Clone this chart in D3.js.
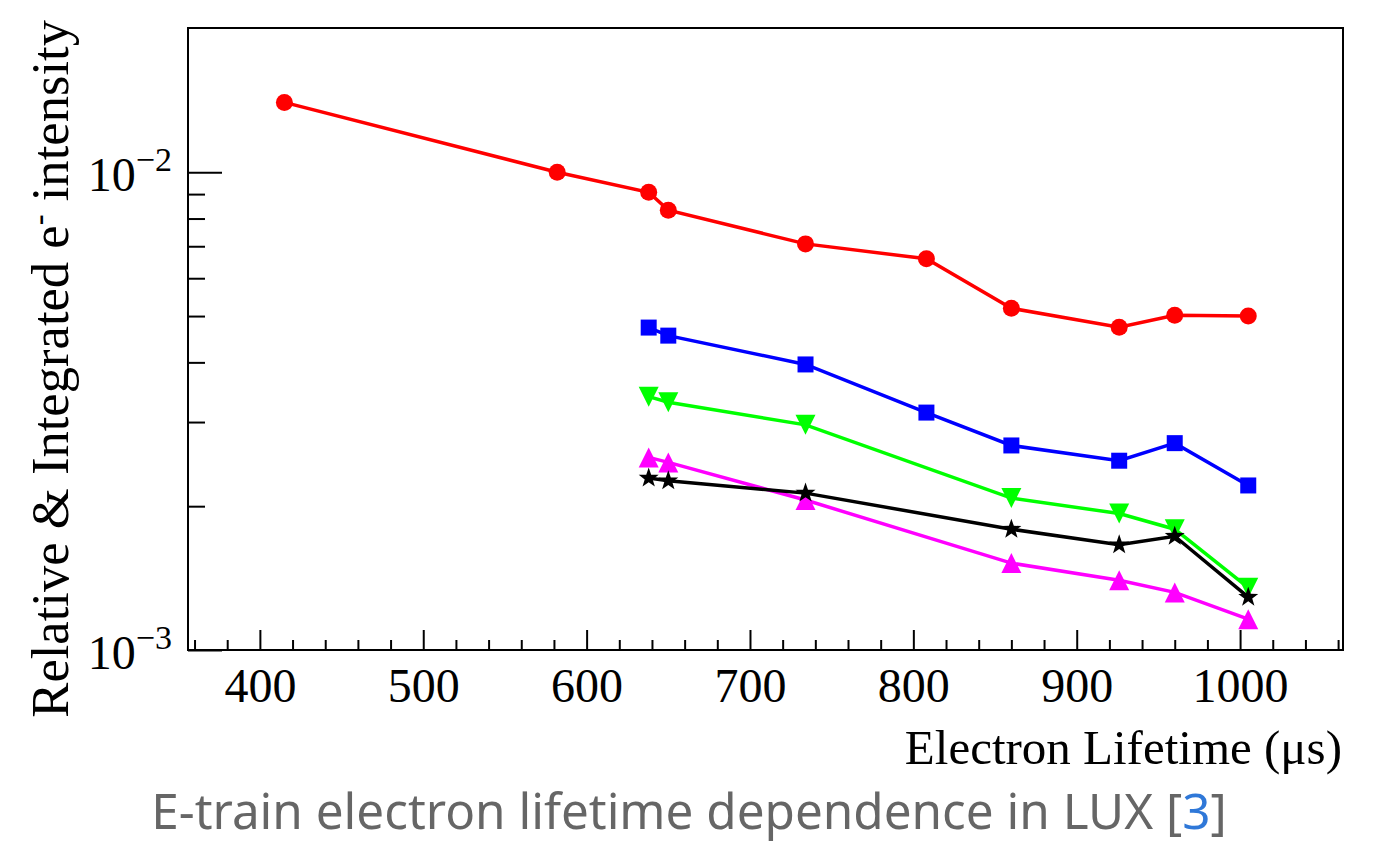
<!DOCTYPE html>
<html>
<head>
<meta charset="utf-8">
<script src="https://cdn.jsdelivr.net/npm/d3@7"></script>
<style>
  body { margin: 0; background: #fff; }
  svg { display: block; }
</style>
</head>
<body>
<div id="chart"></div>
<script>
const width = 1385;
const height = 842;

// electron lifetime (us)
const redLifetimes = [415, 582, 638, 650, 734, 808, 860, 926, 960, 1005];
const blueLifetimes = [638, 650, 734, 808, 860, 926, 960, 1005];
const lowLifetimes = [638, 650, 734, 860, 926, 960, 1005];

// relative & integrated e- intensity
const redValues = [0.0140, 0.0100, 0.00908, 0.00833, 0.00708, 0.00659, 0.00519, 0.00474, 0.00502, 0.00500];
const blueValues = [0.00473, 0.00455, 0.00396, 0.00314, 0.00268, 0.00249, 0.00271, 0.00221];
const greenValues = [0.00339, 0.00330, 0.00296, 0.00208, 0.00193, 0.00179, 0.00135];
const magentaValues = [0.00253, 0.00247, 0.00206, 0.00152, 0.00140, 0.00132, 0.00116];
const blackValues = [0.00229, 0.00226, 0.00213, 0.00179, 0.00166, 0.00173, 0.00129];

const xMajorTicks = [400, 500, 600, 700, 800, 900, 1000];
const yMajorTicks = [0.001, 0.01];
const yTickExponents = ['\u22123', '\u22122'];

const plot = {left: 188, right: 1343, top: 28, bottom: 650};

const x = d3.scaleLinear().domain([356, 1063]).range([plot.left, plot.right]);
const y = d3.scaleLog().domain([0.001, 0.02004]).range([plot.bottom, plot.top]);

const serif = '"Liberation Serif", "Times New Roman", serif';

const svg = d3.select('#chart')
    .append('svg')
    .attr('width', width)
    .attr('height', height);

// custom marker shapes (centred on bounding box, like ROOT)
const triUp = {
    draw(ctx, size) {
        const w = Math.sqrt(size);
        ctx.moveTo(0, -w / 2);
        ctx.lineTo(w / 2, w / 2);
        ctx.lineTo(-w / 2, w / 2);
        ctx.closePath();
    }
};
const triDown = {
    draw(ctx, size) {
        const w = Math.sqrt(size);
        ctx.moveTo(0, w / 2);
        ctx.lineTo(w / 2, -w / 2);
        ctx.lineTo(-w / 2, -w / 2);
        ctx.closePath();
    }
};
const star = {
    draw(ctx, size) {
        const r = Math.sqrt(size) / 2;
        const ri = r * 0.4;
        for (let i = 0; i < 10; i++) {
            const a = -Math.PI / 2 + i * Math.PI / 5;
            const rr = i % 2 === 0 ? r : ri;
            if (i === 0) ctx.moveTo(rr * Math.cos(a), rr * Math.sin(a));
            else ctx.lineTo(rr * Math.cos(a), rr * Math.sin(a));
        }
        ctx.closePath();
    }
};

const series = [
    {xs: redLifetimes, ys: redValues, color: '#ff0000', symbol: d3.symbolCircle, size: Math.PI * 8.5 * 8.5},
    {xs: blueLifetimes, ys: blueValues, color: '#0000ff', symbol: d3.symbolSquare, size: 16 * 16},
    {xs: lowLifetimes, ys: greenValues, color: '#00ff00', symbol: triDown, size: 20 * 20},
    {xs: lowLifetimes, ys: magentaValues, color: '#ff00ff', symbol: triUp, size: 20 * 20},
    {xs: lowLifetimes, ys: blackValues, color: '#000000', symbol: star, size: 21 * 21}
];

// Axes ticks (ROOT style: inside, left & bottom only)
const xMajor = d3.axisBottom(x)
    .tickValues(xMajorTicks)
    .tickSizeInner(-20)
    .tickSizeOuter(0)
    .tickPadding(18)
    .tickFormat(d3.format('d'));

const xMinor = d3.axisBottom(x)
    .tickValues(d3.range(360, 1061, 20).filter(d => d % 100 !== 0))
    .tickSizeInner(-10)
    .tickSizeOuter(0)
    .tickFormat('');

const gx = svg.append('g')
    .attr('transform', `translate(0, ${plot.bottom})`)
    .call(xMajor);
svg.append('g')
    .attr('transform', `translate(0, ${plot.bottom})`)
    .call(xMinor)
    .select('.domain').remove();

gx.select('.domain').remove();
gx.selectAll('text')
    .attr('font-family', serif)
    .attr('font-size', 48)
    .attr('fill', '#000');

const yMinorVals = d3.range(2, 10).map(d => d * 0.001);
const yMajor = d3.axisLeft(y)
    .tickValues(yMajorTicks)
    .tickSizeInner(-34)
    .tickSizeOuter(0)
    .tickFormat('');
const yMinor = d3.axisLeft(y)
    .tickValues(yMinorVals)
    .tickSizeInner(-17)
    .tickSizeOuter(0)
    .tickFormat('');

svg.append('g')
    .attr('transform', `translate(${plot.left}, 0)`)
    .call(yMajor)
    .select('.domain').remove();
svg.append('g')
    .attr('transform', `translate(${plot.left}, 0)`)
    .call(yMinor)
    .select('.domain').remove();

svg.selectAll('.tick line')
    .attr('stroke', '#000')
    .attr('stroke-width', 2);

// y tick labels: 10^-n
const yLabels = svg.append('g')
    .selectAll('text')
    .data(yMajorTicks)
    .enter()
    .append('text')
    .attr('x', 172)
    .attr('y', d => y(d) + 19)
    .attr('text-anchor', 'end')
    .attr('font-family', serif)
    .attr('font-size', 48)
    .attr('fill', '#000');
yLabels.append('tspan').text('10');
yLabels.append('tspan')
    .attr('dy', -20)
    .attr('font-size', 34)
    .text((d, i) => yTickExponents[i]);

// frame
svg.append('rect')
    .attr('x', plot.left)
    .attr('y', plot.top)
    .attr('width', plot.right - plot.left)
    .attr('height', plot.bottom - plot.top)
    .attr('fill', 'none')
    .attr('stroke', '#000')
    .attr('stroke-width', 2);

// series
const line = d3.line()
    .x(d => x(d[0]))
    .y(d => y(d[1]));

series.forEach(s => {
    const pts = s.xs.map((v, i) => [v, s.ys[i]]);
    const g = svg.append('g');
    g.append('path')
        .datum(pts)
        .attr('d', line)
        .attr('fill', 'none')
        .attr('stroke', s.color)
        .attr('stroke-width', 3.5);
    g.selectAll('path.marker')
        .data(pts)
        .enter()
        .append('path')
        .attr('class', 'marker')
        .attr('transform', d => `translate(${x(d[0])}, ${y(d[1])})`)
        .attr('d', d3.symbol().type(s.symbol).size(s.size))
        .attr('fill', s.color);
});

// axis titles
svg.append('text')
    .attr('x', 1342)
    .attr('y', 764)
    .attr('text-anchor', 'end')
    .attr('font-family', serif)
    .attr('font-size', 49)
    .attr('fill', '#000')
    .text('Electron Lifetime (\u03bcs)');

const yTitle = svg.append('text')
    .attr('transform', 'translate(68, 20) rotate(-90)')
    .attr('text-anchor', 'end')
    .attr('font-family', serif)
    .attr('font-size', 48)
    .attr('fill', '#000');
const supSize = yTitle.append('tspan').text('Relative & Integrated e');
yTitle.append('tspan').attr('class', 'sup').attr('dy', -18).attr('font-size', 30).text('-');
yTitle.append('tspan').attr('dy', 18).text(' intensity');

// fit the title length to the reference (~698 px)
const titleLen = yTitle.node().getComputedTextLength();
const titleFs = 48 * 698 / titleLen;
yTitle.attr('font-size', titleFs);
yTitle.select('.sup').attr('font-size', titleFs * 0.62);

// caption
const caption = svg.append('text')
    .attr('x', 689)
    .attr('y', 829)
    .attr('text-anchor', 'middle')
    .attr('font-family', '"Noto Sans", "Open Sans", sans-serif')
    .attr('font-size', 50)
    .attr('fill', '#666666');
caption.append('tspan').text('E-train electron lifetime dependence in LUX [');
caption.append('tspan').attr('fill', '#2f78d8').text('3');
caption.append('tspan').text(']');

const capLen = caption.node().getComputedTextLength();
caption.attr('font-size', 50 * 1076 / capLen);
</script>
</body>
</html>
